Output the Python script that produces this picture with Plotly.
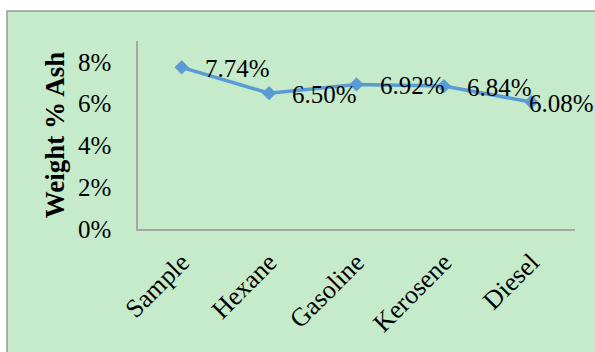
import plotly.graph_objects as go

# Ash content of the sample and after each solvent treatment
solvents = ["Sample", "Hexane", "Gasoline", "Kerosene", "Diesel"]
ash_weight = [0.0774, 0.0650, 0.0692, 0.0684, 0.0608]
y_ticks = [0, 0.02, 0.04, 0.06, 0.08]
y_tick_text = ["0%", "2%", "4%", "6%", "8%"]

serif = "Liberation Serif, Times New Roman, serif"
blue = "#5B9BD5"

fig = go.Figure()
fig.add_trace(go.Scatter(
    x=solvents, y=ash_weight, mode="lines+markers",
    line=dict(color=blue, width=3.5),
    marker=dict(symbol="diamond", size=11, color=blue),
    hoverinfo="skip", showlegend=False,
))

# value labels to the right of each point (last one pulled back inside)
for i, (name, val) in enumerate(zip(solvents, ash_weight)):
    fig.add_annotation(
        x=name, y=val, text=f"{val * 100:.2f}%", showarrow=False,
        xanchor="left", yanchor="middle",
        xshift=-4 if i == len(solvents) - 1 else 21, yshift=-1.5,
        font=dict(family=serif, size=25, color="black"),
    )

# chart area background with border
fig.add_shape(type="rect", xref="paper", yref="paper",
              x0=-0.2998, x1=1.2, y0=-0.8, y1=1.1596,
              fillcolor="#C6EBCB", line=dict(color="#999999", width=1.5),
              layer="below")

fig.update_layout(
    width=595, height=352,
    margin=dict(l=138, r=20, t=41, b=123),
    paper_bgcolor="white", plot_bgcolor="rgba(0,0,0,0)",
    font=dict(family=serif, size=24, color="black"),
    xaxis=dict(
        range=[-0.5, 4.5],
        showgrid=False, zeroline=False, showline=True,
        linecolor="#A6A6A6", linewidth=1.5, tickangle=-45,
        ticklabelstandoff=6,
        tickfont=dict(family=serif, size=26),
    ),
    yaxis=dict(
        range=[0, 0.09], tickvals=y_ticks, ticktext=y_tick_text,
        showgrid=False, zeroline=False, showline=True,
        linecolor="#A6A6A6", linewidth=1.5, ticks="",
        ticklabelstandoff=20,
        tickfont=dict(family=serif, size=25),
        title=dict(text="<b>Weight % Ash</b>", standoff=5,
                   font=dict(family=serif, size=27)),
    ),
)

fig.write_html("out.html")
